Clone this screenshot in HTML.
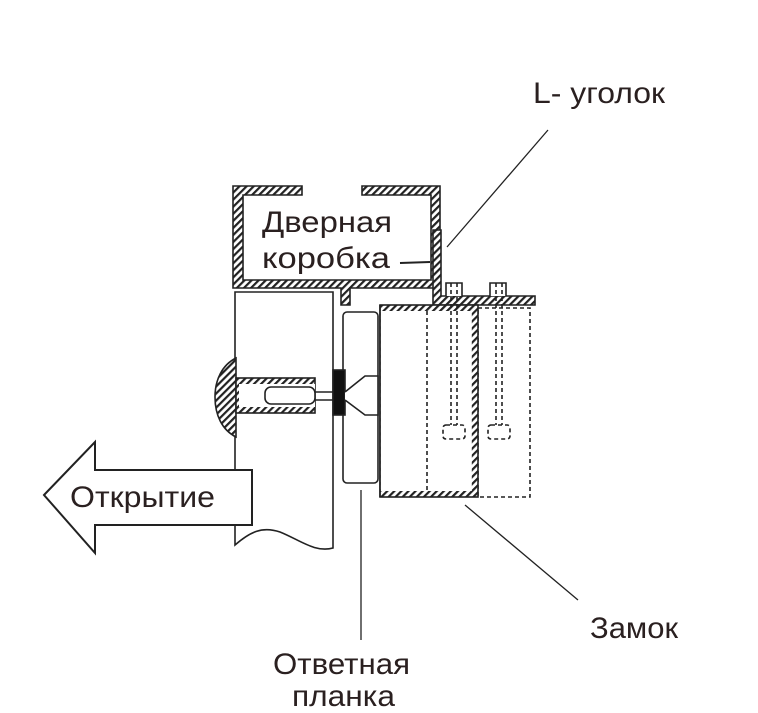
<!DOCTYPE html>
<html><head><meta charset="utf-8"><style>
html,body{margin:0;padding:0;background:#fff;}
svg{display:block;}
text{font-family:"Liberation Sans","DejaVu Sans",sans-serif;fill:#2a2020;}
</style></head><body>
<svg width="758" height="713" viewBox="0 0 758 713" xmlns="http://www.w3.org/2000/svg">
<defs>
<pattern id="h" width="5" height="5" patternUnits="userSpaceOnUse" patternTransform="rotate(45)">
<rect width="5" height="5" fill="#fff"/><rect width="2.2" height="5" fill="#222"/></pattern>
</defs>
<g stroke="#222" stroke-width="1.6" fill="none">
<path d="M233,186 H302 V195 H243 V280 H431 V195 H362 V186 H440 V288 H350 V305 H341 V288 H233 Z" fill="url(#h)"/>
<path d="M433,230 H441 V296 H535 V305 H433 Z" fill="url(#h)"/>
<path d="M235,292 H333 V548 C315,553 300,540 280,532 C262,526 250,532 235,545 Z" fill="#fff"/>
<rect x="343" y="312" width="35" height="171" rx="4" fill="#fff"/>
<rect x="478" y="308" width="52" height="189" stroke-dasharray="4,3"/>
<rect x="380" y="305" width="98" height="192" fill="url(#h)"/>
<rect x="380.8" y="311" width="91" height="180" fill="#fff" stroke="none"/>
<line x1="380" y1="305" x2="380" y2="497"/>
<line x1="427" y1="311" x2="427" y2="491" stroke-dasharray="4,3"/>
<path d="M446,296 V283 H462 V296" fill="#fff"/>
<path d="M490,296 V283 H506 V296" fill="#fff"/>
<line x1="451" y1="283" x2="451" y2="425" stroke-dasharray="4,3"/>
<line x1="457" y1="283" x2="457" y2="425" stroke-dasharray="4,3"/>
<line x1="496" y1="283" x2="496" y2="425" stroke-dasharray="4,3"/>
<line x1="502" y1="283" x2="502" y2="425" stroke-dasharray="4,3"/>
<rect x="443" y="425" width="22" height="14" rx="3" stroke-dasharray="4,3" fill="#fff"/>
<rect x="488" y="425" width="22" height="14" rx="3" stroke-dasharray="4,3" fill="#fff"/>
<path d="M236,358 C222,365 215,380 215,397 C215,415 222,430 236,437 Z" fill="url(#h)"/>
<rect x="236" y="378" width="79" height="35" fill="url(#h)"/>
<rect x="239" y="384" width="76" height="23" fill="#fff" stroke="none"/>
<rect x="265" y="387" width="50" height="17" rx="6" fill="#fff"/>
<line x1="315" y1="392" x2="345" y2="392"/>
<line x1="315" y1="400" x2="345" y2="400"/>
<rect x="333" y="370" width="12" height="45" fill="#111"/>
<path d="M345,392 L365,376 H378 V415 H365 L345,400" fill="#fff"/>
<path d="M44,495 L95,442 V470 H252 V525 H95 V553 Z" fill="#fff" stroke-width="2"/>
<line x1="447" y1="247" x2="548" y2="130" stroke-width="1.3"/>
<line x1="465" y1="505" x2="578" y2="600" stroke-width="1.3"/>
<line x1="361" y1="490" x2="361" y2="640" stroke-width="1.3"/>
<line x1="400" y1="263" x2="430" y2="262" stroke-width="2"/>
</g>
<g font-size="30">
<text x="533" y="103" textLength="132" lengthAdjust="spacingAndGlyphs">L- уголок</text>
<text x="262" y="232" textLength="130" lengthAdjust="spacingAndGlyphs">Дверная</text>
<text x="262" y="268" textLength="128" lengthAdjust="spacingAndGlyphs">коробка</text>
<text x="70" y="507" textLength="145" lengthAdjust="spacingAndGlyphs">Открытие</text>
<text x="590" y="638" textLength="88" lengthAdjust="spacingAndGlyphs">Замок</text>
<text x="273" y="674" textLength="137" lengthAdjust="spacingAndGlyphs">Ответная</text>
<text x="292" y="706" textLength="103" lengthAdjust="spacingAndGlyphs">планка</text>
</g>
</svg>
</body></html>
